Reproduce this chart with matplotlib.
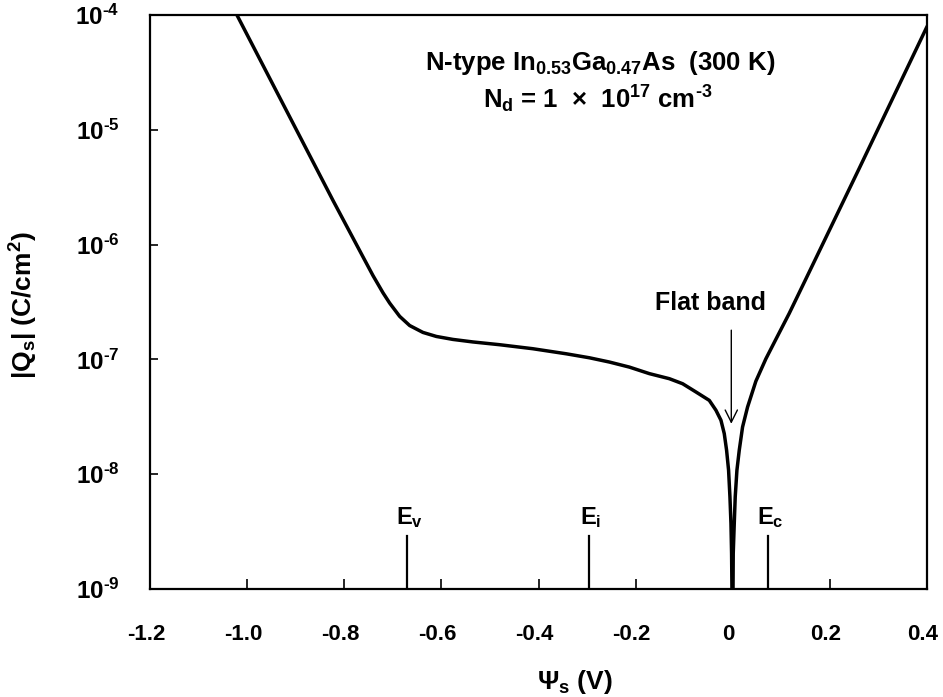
import matplotlib
matplotlib.use("Agg")
import matplotlib.pyplot as plt
import matplotlib.transforms as mtransforms
import numpy as np

plt.rcParams['font.family'] = ['Liberation Sans', 'DejaVu Sans']
plt.rcParams['font.weight'] = 'bold'
plt.rcParams['axes.labelweight'] = 'bold'
plt.rcParams['mathtext.fontset'] = 'custom'
plt.rcParams['mathtext.rm'] = 'Liberation Sans:bold'
plt.rcParams['mathtext.it'] = 'Liberation Sans:bold'
plt.rcParams['mathtext.bf'] = 'Liberation Sans:bold'
plt.rcParams['mathtext.default'] = 'rm'

HY = '\u2010'  # short hyphen, mathtext would turn '-' into a long minus

# surface potential (V) and log10 of |Qs| (C/cm2)
psi_s = [-1.04, -1.021, -0.823, -0.761, -0.7408, -0.7202,
         -0.7064, -0.6859, -0.6653, -0.638, -0.6104, -0.5762, -0.5351, -0.4802,
         -0.4117, -0.343, -0.2951, -0.254, -0.2129, -0.1717, -0.1306, -0.1032,
         -0.0757, -0.0483, -0.0346, -0.0243, -0.0175, -0.0127, -0.0086, -0.0058,
         -0.0037, -0.0024, -0.0017, -0.0003, 0.001, 0.0031, 0.0051, 0.0086,
         0.0134, 0.0202, 0.0305, 0.0476, 0.0682, 0.0888, 0.1162, 0.1505,
         0.260, 0.399, 0.41]
log_qs = [-3.85, -4.00, -5.617, -6.110, -6.270, -6.420,
          -6.510, -6.625, -6.705, -6.765, -6.800, -6.826, -6.848, -6.872,
          -6.907, -6.951, -6.986, -7.023, -7.067, -7.124, -7.168, -7.212,
          -7.284, -7.357, -7.443, -7.530, -7.646, -7.791, -7.965, -8.197,
          -8.429, -8.690, -8.98, -9.6, -8.690, -8.429, -8.197, -7.965,
          -7.791, -7.589, -7.415, -7.190, -6.995, -6.825, -6.600, -6.30,
          -5.34, -4.11, -4.02]

# band edge markers
levels = ['E$_v$', 'E$_i$', 'E$_c$']
level_psi = [-0.670, -0.297, 0.073]
marker_top = 2.9e-9

xticks = [-1.2, -1.0, -0.8, -0.6, -0.4, -0.2, 0, 0.2, 0.4]
xticklabels = ['-1.2', '-1.0', '-0.8', '-0.6', '-0.4', '-0.2', '0', '0.2', '0.4']
yticks = [1e-9, 1e-8, 1e-7, 1e-6, 1e-5, 1e-4]
yticklabels = ['10$^{%s%d}$' % (HY, k) for k in [9, 8, 7, 6, 5, 4]]

fig = plt.figure(figsize=(9.43, 6.97), dpi=100)
ax = fig.add_axes([150 / 943, 108 / 697, 777 / 943, 574 / 697])

qs = np.power(10.0, log_qs)
ax.plot(psi_s, qs, color='black', lw=2.5, solid_joinstyle='round')

ax.set_yscale('log')
ax.set_xlim(-1.2, 0.4)
ax.set_ylim(1e-9, 1e-4)

for lab, x in zip(levels, level_psi):
    ax.plot([x, x], [1e-9, marker_top], color='black', lw=1.6)
    ax.text(x + 0.005, marker_top * 1.12, lab, ha='center', va='bottom', fontsize=17)

ax.annotate('', xy=(-0.003, 2.6e-8), xytext=(-0.003, 1.9e-7),
            arrowprops=dict(arrowstyle='->', color='black', lw=1.0,
                            mutation_scale=22))
ax.text(-0.046, 2.46e-7, 'Flat band', ha='center', va='bottom', fontsize=18)

ax.text(-0.273, 10 ** -4.42, 'N-type In$_{0.53}$Ga$_{0.47}$As  (300 K)',
        ha='center', va='center', fontsize=18.5)
ax.text(-0.279, 10 ** -4.73, 'N$_d$ = 1  \u00d7  10$^{17}$ cm$^{%s3}$' % HY,
        ha='center', va='center', fontsize=18.5)

ax.set_xticks(xticks)
ax.set_xticklabels(xticklabels)
ax.set_yticks(yticks)
ax.set_yticklabels(yticklabels)
ax.minorticks_off()
ax.tick_params(axis='x', direction='in', length=7, width=1.2, labelsize=16, pad=25)
ax.tick_params(axis='y', direction='in', length=6, width=1.2, labelsize=17.5, pad=22)
shift = mtransforms.ScaledTranslation(-4 / 100, 0, fig.dpi_scale_trans)
for t in ax.get_xticklabels():
    t.set_transform(t.get_transform() + shift)

for s in ax.spines.values():
    s.set_linewidth(1.6)

ax.set_xlabel('$\\Psi_s$ (V)', fontsize=19)
ax.set_ylabel('|Q$_s$| (C/cm$^2$)', fontsize=19)
ax.xaxis.set_label_coords(0.547, -0.1376)
ax.yaxis.set_label_coords(-0.1416, 0.495)

fig.savefig('out.png', dpi=100)
